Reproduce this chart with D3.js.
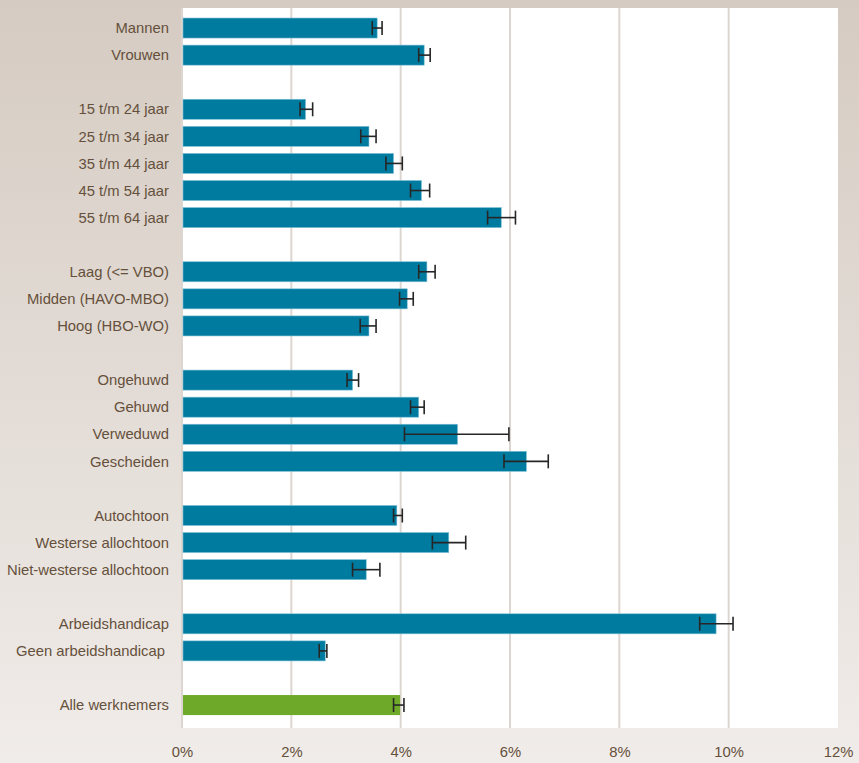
<!DOCTYPE html>
<html>
<head>
<meta charset="utf-8">
<script src="https://cdn.jsdelivr.net/npm/d3@7"></script>
<style>
  html, body { margin: 0; padding: 0; }
  body { width: 859px; height: 763px; overflow: hidden; }
  text { font-family: "Liberation Sans", Arial, sans-serif; fill: #65503b; }
</style>
</head>
<body>
<div id="chart"></div>
<script>
// Verzuim per groep werknemers (%), met betrouwbaarheidsinterval
const categories = [
  "Mannen", "Vrouwen", "",
  "15 t/m 24 jaar", "25 t/m 34 jaar", "35 t/m 44 jaar", "45 t/m 54 jaar", "55 t/m 64 jaar", " ",
  "Laag (<= VBO)", "Midden (HAVO-MBO)", "Hoog (HBO-WO)", "  ",
  "Ongehuwd", "Gehuwd", "Verweduwd", "Gescheiden", "   ",
  "Autochtoon", "Westerse allochtoon", "Niet-westerse allochtoon", "    ",
  "Arbeidshandicap", "Geen arbeidshandicap ", "     ",
  "Alle werknemers"
];
const values = [
  3.57, 4.43, null,
  2.26, 3.42, 3.87, 4.38, 5.84, null,
  4.48, 4.12, 3.42, null,
  3.12, 4.33, 5.04, 6.30, null,
  3.93, 4.88, 3.37, null,
  9.77, 2.62, null,
  3.99
];
const lower = [
  3.48, 4.33, null,
  2.16, 3.27, 3.73, 4.18, 5.59, null,
  4.33, 3.98, 3.26, null,
  3.02, 4.18, 4.07, 5.89, null,
  3.87, 4.58, 3.12, null,
  9.47, 2.51, null,
  3.87
];
const upper = [
  3.66, 4.54, null,
  2.39, 3.55, 4.03, 4.53, 6.10, null,
  4.63, 4.23, 3.55, null,
  3.23, 4.43, 5.98, 6.70, null,
  4.03, 5.19, 3.62, null,
  10.08, 2.65, null,
  4.06
];
const totalLabel = "Alle werknemers";
const xTicks = [0, 2, 4, 6, 8, 10, 12];

const W = 859, H = 763;
const plot = { left: 182, right: 838, top: 8, bottom: 728 };

const svg = d3.select("#chart").append("svg")
  .attr("width", W).attr("height", H);

const defs = svg.append("defs");
const grad = defs.append("linearGradient")
  .attr("id", "bg").attr("x1", 0).attr("y1", 0).attr("x2", 0).attr("y2", 1);
grad.append("stop").attr("offset", "0%").attr("stop-color", "#d5cbc2");
grad.append("stop").attr("offset", "100%").attr("stop-color", "#f0ece9");

svg.append("rect").attr("width", W).attr("height", H).attr("fill", "url(#bg)");
svg.append("rect")
  .attr("x", plot.left).attr("y", plot.top)
  .attr("width", plot.right - plot.left).attr("height", plot.bottom - plot.top)
  .attr("fill", "#ffffff");

const x = d3.scaleLinear().domain([0, 12]).range([plot.left, plot.right]);
const y = d3.scaleBand().domain(categories).range([14.5, 718.6]).paddingInner(0.26).paddingOuter(0.13);

// verticale rasterlijnen
svg.append("g").selectAll("line")
  .data(xTicks.filter(t => t < 12))
  .join("line")
  .attr("x1", d => x(d)).attr("x2", d => x(d))
  .attr("y1", plot.top).attr("y2", plot.bottom)
  .attr("stroke", "#ddd6d0").attr("stroke-width", 2);

const rows = categories.map((c, i) => ({ c, v: values[i], lo: lower[i], hi: upper[i] }))
  .filter(d => d.v !== null);

// balken
svg.append("g").selectAll("rect")
  .data(rows)
  .join("rect")
  .attr("x", x(0) + 1)
  .attr("y", d => y(d.c))
  .attr("width", d => x(d.v) - x(0) - 1)
  .attr("height", y.bandwidth())
  .attr("fill", d => d.c === totalLabel ? "#6fa92a" : "#007ba0")
  .attr("stroke", d => d.c === totalLabel ? "none" : "#7fc0d6")
  .attr("stroke-width", 0.6);

// foutmarges
const eb = svg.append("g").attr("stroke", "#262626").attr("stroke-width", 1.6);
rows.forEach(d => {
  const cy = y(d.c) + y.bandwidth() / 2;
  eb.append("line").attr("x1", x(d.lo)).attr("x2", x(d.hi)).attr("y1", cy).attr("y2", cy);
  eb.append("line").attr("x1", x(d.lo)).attr("x2", x(d.lo)).attr("y1", cy - 7).attr("y2", cy + 7);
  eb.append("line").attr("x1", x(d.hi)).attr("x2", x(d.hi)).attr("y1", cy - 7).attr("y2", cy + 7);
});

// categorielabels
svg.append("g").selectAll("text")
  .data(rows)
  .join("text")
  .attr("x", plot.left - 13)
  .attr("y", d => y(d.c) + y.bandwidth() / 2)
  .attr("dy", "0.35em")
  .attr("text-anchor", "end")
  .style("font-size", "14.8px")
  .style("white-space", "pre")
  .text(d => d.c);

// x-as
const xAxis = svg.append("g")
  .attr("transform", `translate(0,${752})`)
  .call(d3.axisBottom(x).tickValues(xTicks).tickFormat(d => d + "%").tickSize(0).tickPadding(0));
xAxis.select(".domain").remove();
xAxis.selectAll("text")
  .attr("dy", "0.35em").attr("y", 0)
  .style("font-size", "14.8px")
  .style("font-family", "\"Liberation Sans\", Arial, sans-serif")
  .attr("fill", "#65503b");
</script>
</body>
</html>
